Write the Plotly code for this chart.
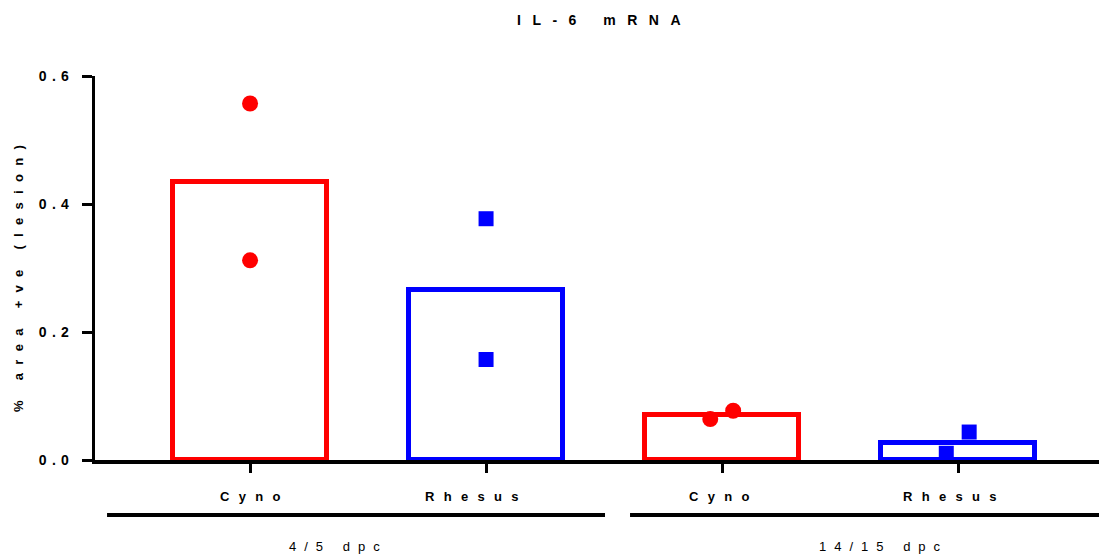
import plotly.graph_objects as go

categories = ["Cyno", "Rhesus", "Cyno", "Rhesus"]
groups = ["4/5 dpc", "14/15 dpc"]
bar_means = [0.434, 0.266, 0.071, 0.027]
points = [[0.557, 0.312], [0.377, 0.157], [0.064, 0.077], [0.0105, 0.0437]]
point_jitter = [[0.0, 0.0], [0.0, 0.0], [-0.05, 0.047], [-0.05, 0.047]]
colors = ["#ff0000", "#0000ff", "#ff0000", "#0000ff"]
symbols = ["circle", "square", "circle", "square"]
y_ticks = [0.0, 0.2, 0.4, 0.6]


def ls(text, px, bold=False):
    s = f"<span style='letter-spacing:{px}px'>{text}</span>"
    return f"<b>{s}</b>" if bold else s


FONT = "Liberation Sans, Arial, sans-serif"
# page body has an 8px margin; compensate so the figure lands at the intended pixels
OFF = 8
W, H = 1107 - OFF, 556 - OFF
ML, MT, MB, MR = 95 - OFF, 76 - OFF, 96, 0

xs = list(range(len(categories)))
fig = go.Figure()
fig.add_trace(go.Bar(
    x=xs, y=bar_means, width=0.65,
    marker=dict(color="rgba(255,255,255,0)", line=dict(color=colors, width=5)),
    showlegend=False, hoverinfo="skip"))
for i, (pts, jit) in enumerate(zip(points, point_jitter)):
    fig.add_trace(go.Scatter(
        x=[xs[i] + j for j in jit], y=pts, mode="markers",
        marker=dict(color=colors[i], symbol=symbols[i],
                    size=16 if symbols[i] == "circle" else 15, line=dict(width=0)),
        showlegend=False))

annotations = []
L_CAT = 9.3
label_shift = [0, -14, -3, -8]
for i, c in enumerate(categories):
    annotations.append(dict(x=xs[i], y=-0.096, xref="x", yref="paper", text=ls(c, L_CAT, True),
                            showarrow=False, xshift=L_CAT / 2 + label_shift[i],
                            font=dict(size=13, color="black", family=FONT), yanchor="middle"))
L_GRP = 8
group_label_x = [0.356, 2.665]
for g, gx in zip(groups, group_label_x):
    annotations.append(dict(x=gx, y=-0.224, xref="x", yref="paper", text=ls(g, L_GRP),
                            showarrow=False, xshift=L_GRP / 2,
                            font=dict(size=13, color="black", family=FONT), yanchor="middle"))
L_YT = 8.3
annotations.append(dict(x=-(95 - 18) / 1012, y=0.5, xref="paper", yref="paper",
                        text=ls("% area +ve (lesion)", L_YT, True), textangle=-90,
                        showarrow=False, yshift=-7, xanchor="center", yanchor="middle",
                        font=dict(size=13, color="black", family=FONT)))
L_TI = 11.5
annotations.append(dict(x=0.5, y=1 + (76 - 20) / 384, xref="paper", yref="paper",
                        text=ls("IL-6 mRNA", L_TI, True), showarrow=False,
                        xshift=L_TI / 2 - 2, xanchor="center", yanchor="middle",
                        font=dict(size=14, color="black", family=FONT)))

shapes = []
group_line_spans = [(-0.606, 1.504), (1.610, 3.606)]
for a, b in group_line_spans:
    shapes.append(dict(type="line", xref="x", yref="paper", x0=a, x1=b,
                       y0=-0.143, y1=-0.143, line=dict(color="black", width=4)))

L_TK = 5.3
fig.update_layout(
    width=W, height=H,
    margin=dict(l=ML, r=MR, t=MT, b=MB, pad=0),
    paper_bgcolor="white", plot_bgcolor="white",
    font=dict(family=FONT, color="black"),
    xaxis=dict(range=[-0.657, 3.631], tickvals=xs, showticklabels=False, ticks="outside", ticklen=9,
               tickwidth=3, tickcolor="black", showline=True, linecolor="black", linewidth=4,
               showgrid=False, zeroline=False, fixedrange=True),
    yaxis=dict(range=[0, 0.6], tickvals=y_ticks,
               ticktext=[ls(f"{v:.1f}", L_TK, True) for v in y_ticks],
               ticks="outside", ticklen=10, tickwidth=3, tickcolor="black",
               showline=True, linecolor="black", linewidth=3, showgrid=False, zeroline=False,
               tickfont=dict(size=14, family=FONT, color="black"), ticklabelstandoff=5,
               automargin=False),
    annotations=annotations, shapes=shapes, bargap=0,
)
fig.write_html("out.html")
